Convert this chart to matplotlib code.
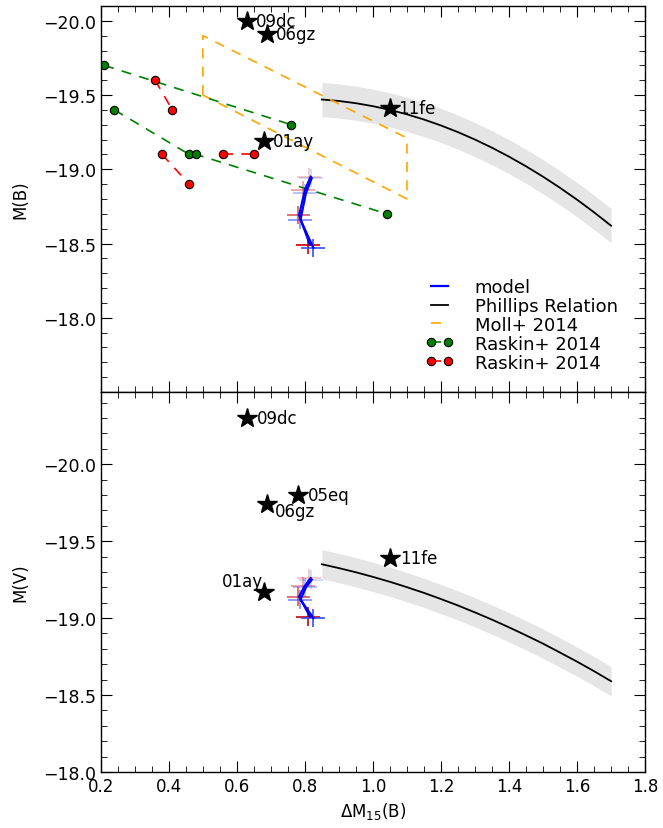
import numpy as np
import matplotlib
matplotlib.use('Agg')
import matplotlib.pyplot as plt
from matplotlib.ticker import MultipleLocator

plt.rcParams.update({
    'font.family': 'DejaVu Sans',
    'font.size': 12,
    'ytick.labelsize': 12.5,
    'xtick.direction': 'in',
    'ytick.direction': 'in',
    'xtick.top': True,
    'ytick.right': True,
    'xtick.major.size': 8,
    'ytick.major.size': 8,
    'xtick.minor.size': 4,
    'ytick.minor.size': 4,
    'axes.linewidth': 1.0,
    'legend.numpoints': 2,
    'mathtext.default': 'regular',
})

# ------------------------------
# Observed SNe Ia
# ------------------------------
sn_names = ['09dc', '06gz', '11fe', '01ay', '05eq']
sn_dm15 = [0.63, 0.69, 1.05, 0.68, 0.78]
sn_MB = [-20.00, -19.91, -19.41, -19.19, np.nan]
sn_MV = [-20.30, -19.74, -19.39, -19.17, -19.80]

# ------------------------------
# Phillips relation
# ------------------------------
phil_dm15 = [0.85, 0.90, 0.95, 1.00, 1.05, 1.10, 1.15, 1.20, 1.25,
             1.30, 1.35, 1.40, 1.45, 1.50, 1.55, 1.60, 1.65, 1.70]
phil_MB = [-19.470, -19.460, -19.445, -19.425, -19.400, -19.370, -19.335, -19.295, -19.250,
           -19.200, -19.145, -19.085, -19.020, -18.950, -18.875, -18.795, -18.710, -18.620]
phil_MV = [-19.350, -19.325, -19.298, -19.268, -19.236, -19.201, -19.164, -19.124, -19.082,
           -19.037, -18.990, -18.940, -18.888, -18.834, -18.776, -18.717, -18.655, -18.590]
phil_MB_err = 0.115
phil_MV_err = 0.095

# ------------------------------
# Moll+ 2014 region
# ------------------------------
moll_dm15 = [0.50, 0.50, 1.10, 1.10, 0.50]
moll_MB = [-19.50, -19.90, -19.21, -18.80, -19.50]

# ------------------------------
# Raskin+ 2014 tracks
# ------------------------------
rg_dm15 = [[0.21, 0.76], [0.24, 0.46, 0.48, 1.04]]
rg_MB = [[-19.70, -19.30], [-19.40, -19.10, -19.10, -18.70]]
rr_dm15 = [[0.36, 0.41], [0.38, 0.46], [0.56, 0.65]]
rr_MB = [[-19.60, -19.40], [-19.10, -18.90], [-19.10, -19.10]]

# ------------------------------
# Models (two runs)
# ------------------------------
m1_dm15 = [0.817, 0.800, 0.783, 0.815]
m1_MB = [-18.95, -18.86, -18.69, -18.49]
m1_MV = [-19.26, -19.21, -19.14, -19.01]
m2_dm15 = [0.820, 0.803, 0.787, 0.825]
m2_MB = [-18.94, -18.84, -18.66, -18.47]
m2_MV = [-19.25, -19.20, -19.12, -19.00]
e1_dm15 = [0.812, 0.795, 0.781, 0.810]
e2_dm15 = [0.818, 0.800, 0.785, 0.825]
m_dm15_err = 0.035
m_MB_err = 0.06
m_MV_err = 0.06
m_alpha = [0.25, 0.4, 0.65, 1.0]

fig, (ax1, ax2) = plt.subplots(2, 1, figsize=(6.63, 8.29), dpi=100, sharex=True,
                               gridspec_kw={'height_ratios': [386, 380]})
fig.subplots_adjust(left=0.152, right=0.973, top=0.9916, bottom=0.0676, hspace=0)

dash = (0, (6, 5))


def draw_models(ax, y1, y2, yerr):
    for i in range(len(m_alpha)):
        ax.errorbar(e1_dm15[i], y1[i], xerr=m_dm15_err, yerr=yerr, fmt='none',
                    ecolor='#cc0000', alpha=m_alpha[i], lw=1.2, capsize=0)
        ax.errorbar(e2_dm15[i], y2[i], xerr=m_dm15_err, yerr=yerr, fmt='none',
                    ecolor='#3050ff', alpha=m_alpha[i], lw=1.2, capsize=0)
    ax.plot(m1_dm15, y1, color='b', lw=1.6, label='model')
    ax.plot(m2_dm15, y2, color='b', lw=1.6)


def draw_phillips(ax, y, err):
    y = np.array(y)
    ax.fill_between(phil_dm15, y - err, y + err, color='#e5e5e5', lw=0)
    ax.plot(phil_dm15, y, color='k', lw=1.3, label='Phillips Relation')


# ------------------------------
# Top panel: M(B)
# ------------------------------
draw_phillips(ax1, phil_MB, phil_MB_err)
ax1.plot(moll_dm15, moll_MB, color='orange', ls=dash, lw=1.2, label='Moll+ 2014')
for i in range(len(rg_dm15)):
    ax1.plot(rg_dm15[i], rg_MB[i], color='green', ls=dash, lw=1.2, marker='o', ms=6,
             mfc='green', mec='k', mew=0.8, label='Raskin+ 2014' if i == 0 else None)
for i in range(len(rr_dm15)):
    ax1.plot(rr_dm15[i], rr_MB[i], color='red', ls=dash, lw=1.2, marker='o', ms=6,
             mfc='red', mec='k', mew=0.8, label='Raskin+ 2014' if i == 0 else None)
draw_models(ax1, m1_MB, m2_MB, m_MB_err)

for name, x, y in zip(sn_names, sn_dm15, sn_MB):
    if np.isnan(y):
        continue
    ax1.plot(x, y, marker='*', color='k', ms=15, ls='none')
    ax1.annotate(name, (x, y), xytext=(6, 0), textcoords='offset points',
                 ha='left', va='center')

handles, labels = ax1.get_legend_handles_labels()
order = [labels.index('model'), labels.index('Phillips Relation'), labels.index('Moll+ 2014')]
order += [i for i, l in enumerate(labels) if l == 'Raskin+ 2014']
ax1.legend([handles[i] for i in order], [labels[i] for i in order], loc='lower right',
           bbox_to_anchor=(0.963, 0.034), borderaxespad=0, frameon=False, fontsize=13,
           handlelength=1.5, handletextpad=1.2, labelspacing=0.05)

ax1.set_ylim(-17.5, -20.1)
ax1.set_ylabel('M(B)', labelpad=10)

# ------------------------------
# Bottom panel: M(V)
# ------------------------------
draw_phillips(ax2, phil_MV, phil_MV_err)
draw_models(ax2, m1_MV, m2_MV, m_MV_err)

offsets = {'09dc': (7, 0, 'left'), '06gz': (5, -5, 'left'), '11fe': (7, 0, 'left'),
           '01ay': (-1, 8, 'right'), '05eq': (7, 0, 'left')}
for name, x, y in zip(sn_names, sn_dm15, sn_MV):
    ax2.plot(x, y, marker='*', color='k', ms=15, ls='none')
    dx, dy, ha = offsets[name]
    ax2.annotate(name, (x, y), xytext=(dx, dy), textcoords='offset points',
                 ha=ha, va='center')

ax2.set_ylim(-18.0, -20.47)
ax2.set_ylabel('M(V)', labelpad=10)
ax2.set_xlabel(r'$\Delta$M$_{15}$(B)')

for ax in (ax1, ax2):
    ax.set_xlim(0.2, 1.8)
    ax.xaxis.set_major_locator(MultipleLocator(0.2))
    ax.xaxis.set_minor_locator(MultipleLocator(0.05))
    ax.set_yticks([-20.0, -19.5, -19.0, -18.5, -18.0])
    ax.yaxis.set_minor_locator(MultipleLocator(0.1))

fig.savefig('out.png', dpi=100)
